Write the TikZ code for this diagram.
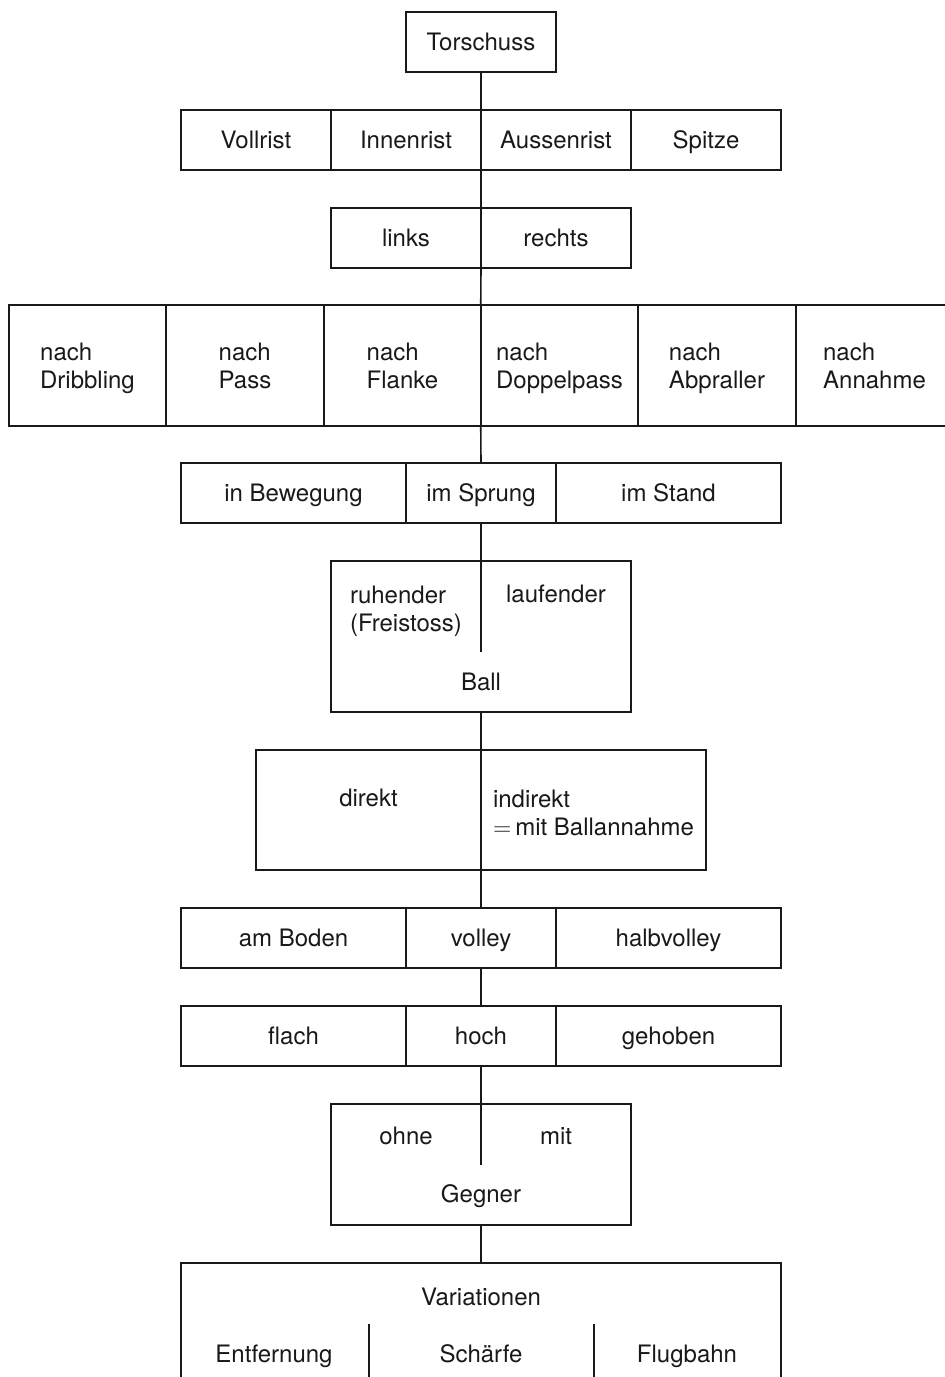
\documentclass[tikz,border=0pt]{standalone}
\usepackage{fontspec}
\setmainfont{TeX Gyre Heros}
\begin{document}
\begin{tikzpicture}[x=0.5pt, y=-0.5pt, line width=0.8pt, black!90,
		cell/.style={draw, minimum height=30pt, inner sep=0pt, outer sep=0pt, text depth=0pt, align=center, font=\fontsize{12}{14}\selectfont},
		box/.style={draw, inner sep=0pt, outer sep=0pt},
		txt/.style={inner sep=0pt, font=\fontsize{12}{14}\selectfont}]
		\useasboundingbox (0, 0) rectangle (945, 1377);
		\clip (0, 0) rectangle (945, 1377);

		\node[cell, minimum width=75pt] at (481, 42) (tor) {Torschuss};

		\node[cell, minimum width=75pt] at (256, 140) (voll) {Vollrist};
		\node[cell, minimum width=75pt] at (406, 140) (innen) {Innenrist};
		\node[cell, minimum width=75pt] at (556, 140) (aussen) {Aussenrist};
		\node[cell, minimum width=75pt] at (706, 140) (spitze) {Spitze};

		\node[cell, minimum width=75pt] at (406, 238) (links) {links};
		\node[cell, minimum width=75pt] at (556, 238) (rechts) {rechts};

		\node[cell, minimum width=78.75pt, minimum height=60.5pt, align=left] at (87.5, 365.5) (dribbling) {nach\\Dribbling};
		\node[cell, minimum width=78.75pt, minimum height=60.5pt, align=left] at (245, 365.5) (pass) {nach\\Pass};
		\node[cell, minimum width=78.75pt, minimum height=60.5pt, align=left] at (402.5, 365.5) (flanke) {nach\\Flanke};
		\node[cell, minimum width=78.75pt, minimum height=60.5pt, align=left] at (559.5, 365.5) (doppel) {nach\\Doppelpass};
		\node[cell, minimum width=78.75pt, minimum height=60.5pt, align=left] at (717, 365.5) (abpraller) {nach\\Abpraller};
		\node[cell, minimum width=78.75pt, minimum height=60.5pt, align=left] at (874.5, 365.5) (annahme) {nach\\Annahme};

		\node[cell, minimum width=112.5pt] at (293.5, 493) (bewegung) {in Bewegung};
		\node[cell, minimum width=75pt] at (481, 493) (sprung) {im Sprung};
		\node[cell, minimum width=112.5pt] at (668.5, 493) (stand) {im Stand};

		% Ball
		\node[box, minimum width=150pt, minimum height=75.5pt] at (481, 636.5) (ball) {};
		\node[txt, anchor=north, align=left] at (406, 585) (ruhend) {ruhender\\(Freistoss)};
		\node[txt, anchor=base] at (556, 602) (laufend) {laufender};
		\node[txt, anchor=base] at (481, 690) (balltxt) {Ball};
		\coordinate (ballmid) at (481, 652);

		\node[box, minimum width=112.5pt, minimum height=60pt] at (368.5, 810) (direkt) {};
		\node[box, minimum width=112.5pt, minimum height=60pt] at (593.5, 810) (indirekt) {};
		\node[txt, anchor=base] at (368.5, 806) (direkttxt) {direkt};
		\node[txt, anchor=north, align=left] at (593.5, 789) (indirekttxt) {indirekt\\$=$\,mit Ballannahme};

		\node[cell, minimum width=112.5pt] at (293.5, 938) (boden) {am Boden};
		\node[cell, minimum width=75pt] at (481, 938) (volley) {volley};
		\node[cell, minimum width=112.5pt] at (668.5, 938) (halbvolley) {halbvolley};

		\node[cell, minimum width=112.5pt] at (293.5, 1036) (flach) {flach};
		\node[cell, minimum width=75pt] at (481, 1036) (hoch) {hoch};
		\node[cell, minimum width=112.5pt] at (668.5, 1036) (gehoben) {gehoben};

		% Gegner
		\node[box, minimum width=150pt, minimum height=60.5pt] at (481, 1164.5) (gegner) {};
		\node[txt, anchor=base] at (406, 1144) (ohne) {ohne};
		\node[txt, anchor=base] at (556, 1144) (mit) {mit};
		\node[txt, anchor=base] at (481, 1202) (gegnertxt) {Gegner};
		\coordinate (gegnermid) at (481, 1165);

		% Variationen
		\node[box, minimum width=300pt, minimum height=68.5pt] at (481, 1331.5) (var) {};
		\node[txt, anchor=base] at (481, 1305) (vartxt) {Variationen};
		\node[txt, anchor=base] at (274, 1362) (entfernung) {Entfernung};
		\node[txt, anchor=base] at (481, 1362) (schaerfe) {Schärfe};
		\node[txt, anchor=base] at (687, 1362) (flugbahn) {Flugbahn};
		\coordinate (d1) at (369, 1324);
		\coordinate (d2) at (594, 1324);

		\draw (tor.south) -- (aussen.north west);
		\draw (aussen.south west) -- (rechts.north west);
		\draw (rechts.south west) -- (doppel.north west);
		\draw (doppel.south west) -- (sprung.north);
		\draw (sprung.south) -- (ball.north);
		\draw (ball.north) -- (ballmid);
		\draw (ball.south) -- (indirekt.north west);
		\draw (indirekt.south west) -- (volley.north);
		\draw (volley.south) -- (hoch.north);
		\draw (hoch.south) -- (gegner.north);
		\draw (gegner.north) -- (gegnermid);
		\draw (gegner.south) -- (var.north);
		\draw (d1) -- (d1 |- var.south);
		\draw (d2) -- (d2 |- var.south);
	\end{tikzpicture}
\end{document}
